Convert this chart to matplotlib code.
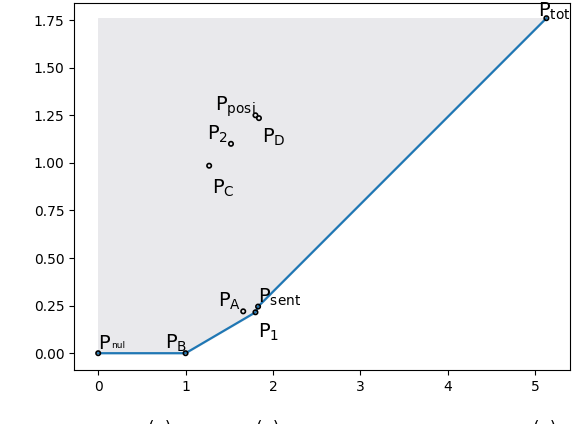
import matplotlib
matplotlib.use("Agg")
import matplotlib.pyplot as plt
import numpy as np

# hull line points
line_x = [0.0, 1.0, 1.80, 1.83, 5.13]
line_y = [0.0, 0.0, 0.215, 0.245, 1.76]

# labelled points
pt_names = ["nul", "B", "1", "A", "sent", "2", "C", "posi", "D", "tot"]
pt_x = [0.0, 1.0, 1.80, 1.66, 1.83, 1.52, 1.27, 1.80, 1.84, 5.13]
pt_y = [0.0, 0.0, 0.215, 0.22, 0.245, 1.10, 0.985, 1.25, 1.235, 1.76]
# label offsets in points
offs = [(0, 3), (-15, 3), (2, -18), (-18, 3), (0, 3), (-17, 3), (2, -20), (-29, 3), (2, -18), (-6, 1)]

fig = plt.figure(figsize=(5.84, 4.24), dpi=100)
ax = fig.add_axes([0.127, 0.127, 0.849, 0.866])

ax.fill_between(line_x, line_y, max(line_y), color="#e9e9ec", zorder=0)
ax.plot(line_x, line_y, color="#1f77b4", lw=1.6, zorder=2)
ax.scatter(pt_x, pt_y, s=10, facecolor="none", edgecolor="black", lw=1.2, zorder=3)

for n, x, y, (dx, dy) in zip(pt_names, pt_x, pt_y, offs):
    if n == "nul":
        ax.annotate("P", (x, y), xytext=(dx, dy), textcoords="offset points", fontsize=14)
        ax.annotate("nul", (x, y), xytext=(dx + 9, dy + 1), textcoords="offset points", fontsize=6.5)
        continue
    ax.annotate(r"P$_{\mathrm{%s}}$" % n, (x, y), xytext=(dx, dy),
                textcoords="offset points", fontsize=14)

ax.set_xlim(-0.275, 5.40)
ax.set_ylim(-0.089, 1.84)
ax.set_xticks([0, 1, 2, 3, 4, 5])
ax.set_yticks(np.arange(0, 1.76, 0.25))
ax.yaxis.set_major_formatter(matplotlib.ticker.FormatStrFormatter("%.2f"))

# labels clipped by the bottom edge, as in the reference
for xp in [160, 268, 545]:
    fig.text(xp / 584, -0.012, "(  )", ha="center", va="center", fontsize=12)

fig.savefig("out.png", dpi=100)
